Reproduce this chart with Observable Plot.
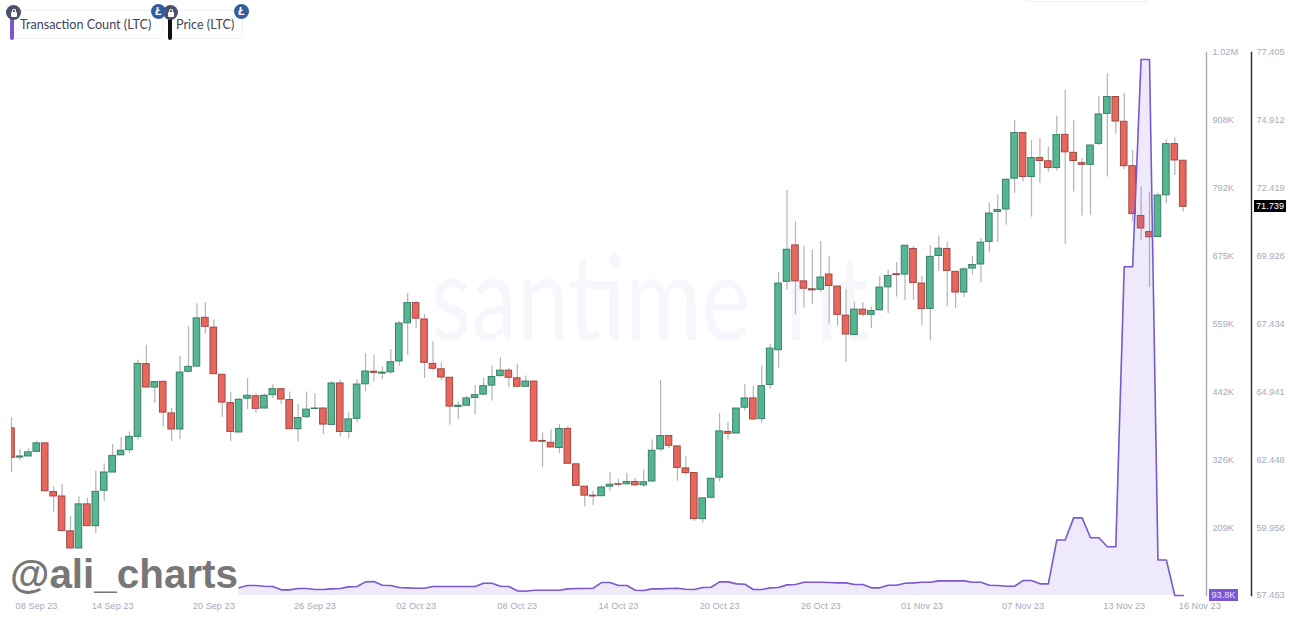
<!DOCTYPE html>
<html>
<head>
<meta charset="utf-8">
<script src="https://cdn.jsdelivr.net/npm/d3@7"></script>
<script src="https://cdn.jsdelivr.net/npm/@observablehq/plot@0.6"></script>
<style>
html,body{margin:0;padding:0;background:#fff;}
#stage{position:relative;width:1292px;height:622px;overflow:hidden;font-family:"Liberation Sans",sans-serif;}
#stage svg{position:absolute;left:0;top:0;}
.mark{position:absolute;left:431px;top:236px;font:400 118px/1 Lato,sans-serif;color:#f6f7fc;white-space:nowrap;transform:scaleX(.785);transform-origin:left top;}
.mark span{margin-left:44px;}
.brand{position:absolute;left:10px;top:551px;font:bold 40.4px/1.15 "Liberation Sans",sans-serif;color:#777;white-space:nowrap;}
.pill{position:absolute;top:10px;height:29px;border:1px solid #eff0f3;border-radius:5px;box-sizing:border-box;}
.pilltext{position:absolute;top:15px;font:12.6px/20px Lato,sans-serif;color:#3f4358;white-space:nowrap;}
.bar{position:absolute;top:18px;width:3.5px;height:22px;border-radius:2px;}
.lock{position:absolute;top:5px;width:15px;height:15px;border-radius:50%;background:#4b4f68;}
.lock:before{content:"";position:absolute;left:4.5px;top:6.5px;width:6px;height:5px;background:#fff;border-radius:1px;}
.lock:after{content:"";position:absolute;left:5.5px;top:3.5px;width:2.6px;height:3.5px;border:1px solid #fff;border-bottom:0;border-radius:3px 3px 0 0;}
.coin{position:absolute;top:4px;width:15px;height:15px;border-radius:50%;background:#345d9d;color:#fff;font:italic bold 11px/15px "Liberation Sans",sans-serif;text-align:center;}
.topbox{position:absolute;left:1022px;top:-20px;width:128px;height:22px;border:1px solid #eff0f3;border-radius:5px;box-sizing:border-box;}
.tag{position:absolute;font:9.2px/12px "Liberation Sans",sans-serif;text-align:center;color:#fff;}
</style>
</head>
<body>
<div id="stage">
  <div class="mark">santime<span>nt</span></div>
</div>
<script>
const startDate = "2023-09-08T00:00:00Z";
const open = [63.60,62.53,62.57,62.74,63.05,61.26,61.10,59.82,59.19,60.81,60.01,61.31,61.98,62.61,62.80,63.29,65.96,65.10,65.31,64.15,63.56,65.68,65.87,67.66,67.30,65.57,64.53,63.45,64.69,64.78,64.33,64.82,65.04,64.64,63.57,64.01,64.31,64.33,63.73,65.25,63.47,63.95,65.22,65.68,65.61,65.66,66.06,67.46,68.20,67.60,65.97,65.77,65.46,64.39,64.43,64.72,64.84,65.17,65.52,65.72,65.44,65.13,65.32,63.14,63.07,62.88,63.58,62.28,61.46,61.13,61.11,61.46,61.55,61.55,61.63,61.51,61.65,62.83,63.32,62.94,62.13,61.96,60.27,61.05,61.79,63.47,63.41,64.36,64.70,63.94,65.19,66.47,68.98,70.32,69.00,68.71,68.69,69.25,68.81,67.74,67.03,67.96,67.77,67.94,68.78,69.26,69.25,70.19,68.92,67.99,69.93,70.19,69.35,68.59,69.47,69.62,70.45,71.55,71.64,72.77,74.45,72.83,73.53,73.41,73.16,74.38,73.72,73.34,73.28,74.05,75.15,75.77,74.86,73.23,71.40,70.81,70.63,72.16,74.04,73.43];
const close = [62.52,62.57,62.72,63.05,61.29,61.10,59.83,59.19,60.81,60.01,61.27,61.98,62.59,62.78,63.29,65.97,65.10,65.30,64.18,63.56,65.65,65.86,67.64,67.33,65.59,64.55,63.47,64.65,64.80,64.32,64.80,65.04,64.66,63.57,63.98,64.29,64.33,63.74,65.25,63.47,63.93,65.21,65.69,65.64,65.65,66.03,67.45,68.20,67.63,66.01,65.79,65.47,64.40,64.43,64.70,64.82,65.15,65.49,65.72,65.46,65.13,65.32,63.12,63.11,62.90,63.58,62.30,61.49,61.13,61.10,61.43,61.53,61.53,61.63,61.51,61.62,62.78,63.32,62.96,62.15,61.96,60.27,61.03,61.75,63.49,63.40,64.33,64.70,63.93,65.15,66.53,68.92,70.16,69.00,68.73,68.67,69.14,68.83,67.77,67.05,67.96,67.78,67.91,68.77,69.20,69.23,70.31,68.94,67.98,69.90,70.20,69.38,68.59,69.44,69.60,70.42,71.49,71.62,72.73,74.45,72.83,73.53,73.42,73.16,74.37,73.74,73.42,73.28,73.99,75.13,75.77,74.87,73.23,71.47,70.94,70.62,72.15,74.04,73.44,71.739];
const high = [63.99,62.83,62.84,63.14,63.05,61.46,61.54,60.36,61.11,61.03,62.03,62.29,63.01,63.27,63.47,66.10,66.65,65.30,65.35,64.33,66.25,67.33,68.18,68.22,67.57,65.57,64.92,64.70,65.43,64.86,64.86,65.20,65.04,64.94,64.49,64.94,64.88,64.35,65.31,65.37,64.17,65.39,66.35,66.29,65.86,66.50,67.53,68.55,68.27,67.78,66.78,66.01,65.46,64.58,64.78,65.17,65.44,65.88,66.20,65.80,65.96,65.52,65.32,63.44,63.54,63.74,63.66,62.28,61.46,61.30,61.48,61.97,61.73,61.95,61.76,62.07,63.17,65.37,63.32,62.94,62.56,61.96,61.03,61.75,64.15,63.82,64.33,65.22,65.15,65.90,66.68,69.32,72.34,71.18,70.29,70.14,70.46,69.90,68.81,68.70,68.24,68.22,68.06,69.19,69.41,69.68,70.31,70.29,69.19,70.31,70.65,70.45,69.35,69.50,69.92,70.57,71.88,72.18,72.77,74.91,74.45,74.18,74.24,73.93,75.06,76.01,74.91,73.50,73.99,75.79,76.62,75.77,75.91,73.81,72.46,72.26,72.24,74.20,74.27,73.43];
const low = [61.97,62.41,62.56,62.73,61.29,60.53,59.83,59.19,59.19,60.01,59.73,60.91,61.98,62.61,62.68,63.17,65.10,64.51,63.66,63.11,63.19,65.61,65.86,67.06,65.59,64.00,63.11,63.45,64.29,64.16,64.32,64.70,64.47,63.57,63.10,63.96,64.29,63.38,63.73,63.28,63.21,63.82,64.95,65.30,65.39,65.60,65.88,66.29,67.28,65.44,65.71,65.35,63.72,63.93,64.40,64.09,64.83,64.61,65.49,65.09,65.13,65.10,63.12,62.15,62.90,62.68,62.30,61.49,60.72,60.77,61.09,61.27,61.46,61.51,61.46,61.43,61.63,62.74,62.86,61.66,61.88,60.18,60.12,61.05,61.64,63.17,63.41,64.24,63.90,63.80,65.04,65.81,68.67,67.78,68.02,68.16,68.61,67.43,67.36,66.03,67.03,67.69,67.27,67.91,67.82,68.43,68.31,68.31,67.36,66.81,69.35,68.06,68.00,68.40,69.22,68.94,70.05,70.43,71.06,72.24,72.65,71.36,72.59,73.01,73.04,70.36,72.28,71.40,71.42,73.99,72.83,74.40,73.10,71.18,70.51,68.77,70.62,71.85,72.89,71.55];
// Transaction count in thousands; the series is visible from the 27th half-day on.
const txFirstIndex = 27;
const txCount = [106.9,110.9,110.9,109.7,109.2,103.5,103.5,105.7,105.7,104.0,104.0,105.2,105.7,108.6,109.2,117.1,117.7,111.4,110.9,107.4,106.9,106.3,106.3,109.2,109.2,109.2,109.2,109.2,109.2,114.8,114.8,109.7,109.2,101.8,101.2,102.9,102.9,102.9,102.9,105.2,105.7,105.7,106.3,116.0,116.0,110.9,110.9,102.9,102.3,105.2,105.2,105.7,106.3,104.6,104.0,107.4,108.0,117.1,117.1,113.7,113.1,104.0,104.0,106.9,107.4,112.0,112.6,116.5,116.5,116.5,116.0,115.4,115.4,112.6,112.6,106.9,106.9,111.4,111.4,114.8,115.4,116.5,116.5,118.8,118.8,118.8,118.8,116.5,116.5,111.4,110.9,109.7,109.7,119.4,119.4,113.8,113.8,188.8,188.8,226.8,226.8,192.7,192.7,177.4,177.4,657,657,1012,1012,154.7,154.7,93.8,93.8];
const priceTicks = [57.463,59.956,62.448,64.941,67.434,69.926,72.419,74.912,77.405];
const txTicks = [209.9,326,442.1,559,675.3,792,908,1024];
const txTickLabels = ["209K","326K","442K","559K","675K","792K","908K","1.02M"];
const dateTicks = ["2023-09-14","2023-09-20","2023-09-26","2023-10-02","2023-10-08","2023-10-14","2023-10-20","2023-10-26","2023-11-01","2023-11-07","2023-11-13"];
const endDateTicks = ["2023-09-08","2023-11-16"];
const lastPrice = 71.739, lastTx = 93.8;

const HALF_DAY = 12 * 3600e3;
const t0 = +new Date(startDate);
const at = i => new Date(t0 + i * HALF_DAY);
const candles = open.map((o, i) => ({date: at(i), open: o, close: close[i], high: high[i], low: low[i]}));
const tx = txCount.map((v, i) => ({date: at(i + txFirstIndex), value: v}));
const UP = "#57b692", DOWN = "#e7675c", UPS = "#3a7f68", DOWNS = "#a04843";
const axisFont = {fontFamily: '"Liberation Sans",sans-serif', fontSize: "9.2px", background: "transparent"};
const labelColor = "#a4abc0";
const bodyHalf = 4.7 * 3600e3;

const pricePlot = Plot.plot({
  width: 1292, height: 622,
  marginLeft: 11, marginRight: 41, marginTop: 52, marginBottom: 27,
  style: axisFont,
  x: {type: "utc", domain: [at(0), at(147.1)], axis: null},
  y: {domain: [57.463, 77.405], axis: null},
  marks: [
    Plot.ruleX(candles, {x: "date", y1: "low", y2: "high", stroke: "#b4b4b8", strokeWidth: 1.2}),
    Plot.rect(candles, {
      x1: d => new Date(+d.date - bodyHalf), x2: d => new Date(+d.date + bodyHalf),
      y1: "open", y2: "close",
      fill: d => d.close >= d.open ? UP : DOWN,
      stroke: d => d.close >= d.open ? UPS : DOWNS,
      strokeWidth: 1,
      clip: true
    }),
    Plot.frame({anchor: "right", stroke: "#2a2a2e", strokeWidth: 1.4}),
    Plot.axisY({anchor: "right", ticks: priceTicks, tickSize: 0, tickPadding: 5, color: labelColor, tickFormat: d3.format(".3f"), label: null}),
    Plot.axisX({anchor: "bottom", ticks: dateTicks.map(d => new Date(d)), tickSize: 0, tickPadding: 7, color: labelColor, tickFormat: d3.utcFormat("%d %b %y"), label: null}),
    Plot.axisX({anchor: "bottom", ticks: endDateTicks.map(d => new Date(d)), tickSize: 0, tickPadding: 7, dx: 25, color: labelColor, tickFormat: d3.utcFormat("%d %b %y"), label: null})
  ]
});

const txPlot = Plot.plot({
  width: 1292, height: 622,
  marginLeft: 11, marginRight: 86, marginTop: 52, marginBottom: 27,
  style: axisFont,
  x: {type: "utc", domain: [at(0), at(141.76)], axis: null},
  y: {domain: [93.8, 1024], axis: null},
  marks: [
    Plot.areaY(tx, {x: "date", y1: 93.8, y2: "value", fill: "#8a63e6", fillOpacity: 0.14}),
    Plot.lineY(tx, {x: "date", y: "value", stroke: "#7a58cf", strokeWidth: 1.6}),
    Plot.frame({anchor: "right", stroke: "#a9a9b3", strokeWidth: 1.4}),
    Plot.axisY({anchor: "right", ticks: txTicks, tickSize: 0, tickPadding: 6, color: labelColor, tickFormat: d => txTickLabels[txTicks.indexOf(d)], label: null})
  ]
});

const stage = document.getElementById("stage");
stage.append(pricePlot, txPlot);

function div(cls, left, top, text, css) {
  const e = document.createElement("div");
  e.className = cls;
  if (left != null) e.style.left = left + "px";
  if (top != null) e.style.top = top + "px";
  if (text) e.textContent = text;
  if (css) Object.assign(e.style, css);
  stage.append(e);
  return e;
}
div("brand", null, null, "@ali_charts");
div("topbox");
div("pill", 12, null, "", {width: "151px"});
div("pill", 171, null, "", {width: "72px"});
div("bar", 10, null, "", {background: "#7a58cf"});
div("bar", 168, null, "", {background: "#111"});
div("pilltext", 20, null, "Transaction Count (LTC)");
div("pilltext", 176, null, "Price (LTC)");
div("lock", 6);
div("lock", 163);
div("coin", 151, null, "Ł");
div("coin", 234, null, "Ł");
// value tags follow the scales
const py = pricePlot.scale("y").apply(lastPrice);
div("tag", 1254, py - 6, "71.739", {width: "32px", background: "#000"});
const ty = txPlot.scale("y").apply(lastTx);
div("tag", 1209, ty - 6, "93.8K", {width: "29px", background: "#7b57d6", color: "#e9e2ff"});
</script>
</body>
</html>
